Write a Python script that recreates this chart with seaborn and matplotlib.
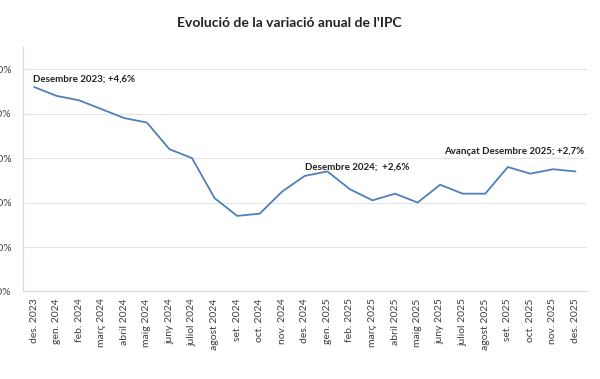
import numpy as np
import pandas as pd
import seaborn as sns
import matplotlib.pyplot as plt
from matplotlib.ticker import FuncFormatter

sns.set_theme(style="white")
plt.rcParams['font.family'] = ['Lato', 'DejaVu Sans']

months = [
    "des. 2023", "gen. 2024", "feb. 2024", "març 2024", "abril 2024", "maig 2024",
    "juny 2024", "juliol 2024", "agost 2024", "set. 2024", "oct. 2024", "nov. 2024",
    "des. 2024", "gen. 2025", "feb. 2025", "març 2025", "abril 2025", "maig 2025",
    "juny 2025", "juliol 2025", "agost 2025", "set. 2025", "oct. 2025", "nov. 2025",
    "des. 2025",
]
ipc = [4.6, 4.4, 4.3, 4.1, 3.9, 3.8, 3.2, 3.0, 2.1, 1.7, 1.75, 2.25,
       2.6, 2.7, 2.3, 2.05, 2.2, 2.0, 2.4, 2.2, 2.2, 2.8, 2.65, 2.75, 2.7]
y_ticks = [0, 1, 2, 3, 4, 5]

# etiquetes de dades: (index del mes, text)
labels = [
    (0, "Desembre 2023; +4,6%"),
    (12, "Desembre 2024;  +2,6%"),
    (24, "Avançat Desembre 2025; +2,7%"),
]

df = pd.DataFrame({"mes": months, "ipc": ipc})

fig = plt.figure(figsize=(6, 3.79), dpi=100)
ax = fig.add_axes([0.038, 0.231, 0.940, 0.645])

sns.lineplot(data=df, x="mes", y="ipc", sort=False, color="#4f80ba", lw=1.3, ax=ax)

ax.set_xlim(-0.5, len(months) - 0.5)
ax.set_ylim(0, 5.5)
ax.set_yticks(y_ticks)
ax.yaxis.set_major_formatter(FuncFormatter(lambda v, _: f"{v:.1f}%".replace(".", ",")))
ax.grid(axis="y", color="#e4e4e4", lw=0.8)
ax.set_xlabel("")
ax.set_ylabel("")
ax.tick_params(axis="x", rotation=90, labelsize=7.5, colors="#404040", length=0, pad=5)
ax.tick_params(axis="y", labelsize=7.5, colors="#404040", length=0, pad=8)

for side in ["top", "right"]:
    ax.spines[side].set_visible(False)
for side in ["left", "bottom"]:
    ax.spines[side].set_color("#d9d9d9")
    ax.spines[side].set_linewidth(0.8)

offsets = {0: (-1, 8, "left"), 12: (0, 9, "left"), 24: (9, 20, "right")}
for i, txt in labels:
    dx, dy, ha = offsets[i]
    ax.annotate(txt, xy=(i, ipc[i]), xytext=(dx, dy), textcoords="offset pixels",
                ha=ha, va="center", fontsize=7, fontweight="bold", color="#222222")

fig.suptitle("Evolució de la variació anual de l'IPC", x=0.483, y=0.955,
             fontsize=10, fontweight="bold", color="#222222")

fig.savefig("out.png", dpi=100)
